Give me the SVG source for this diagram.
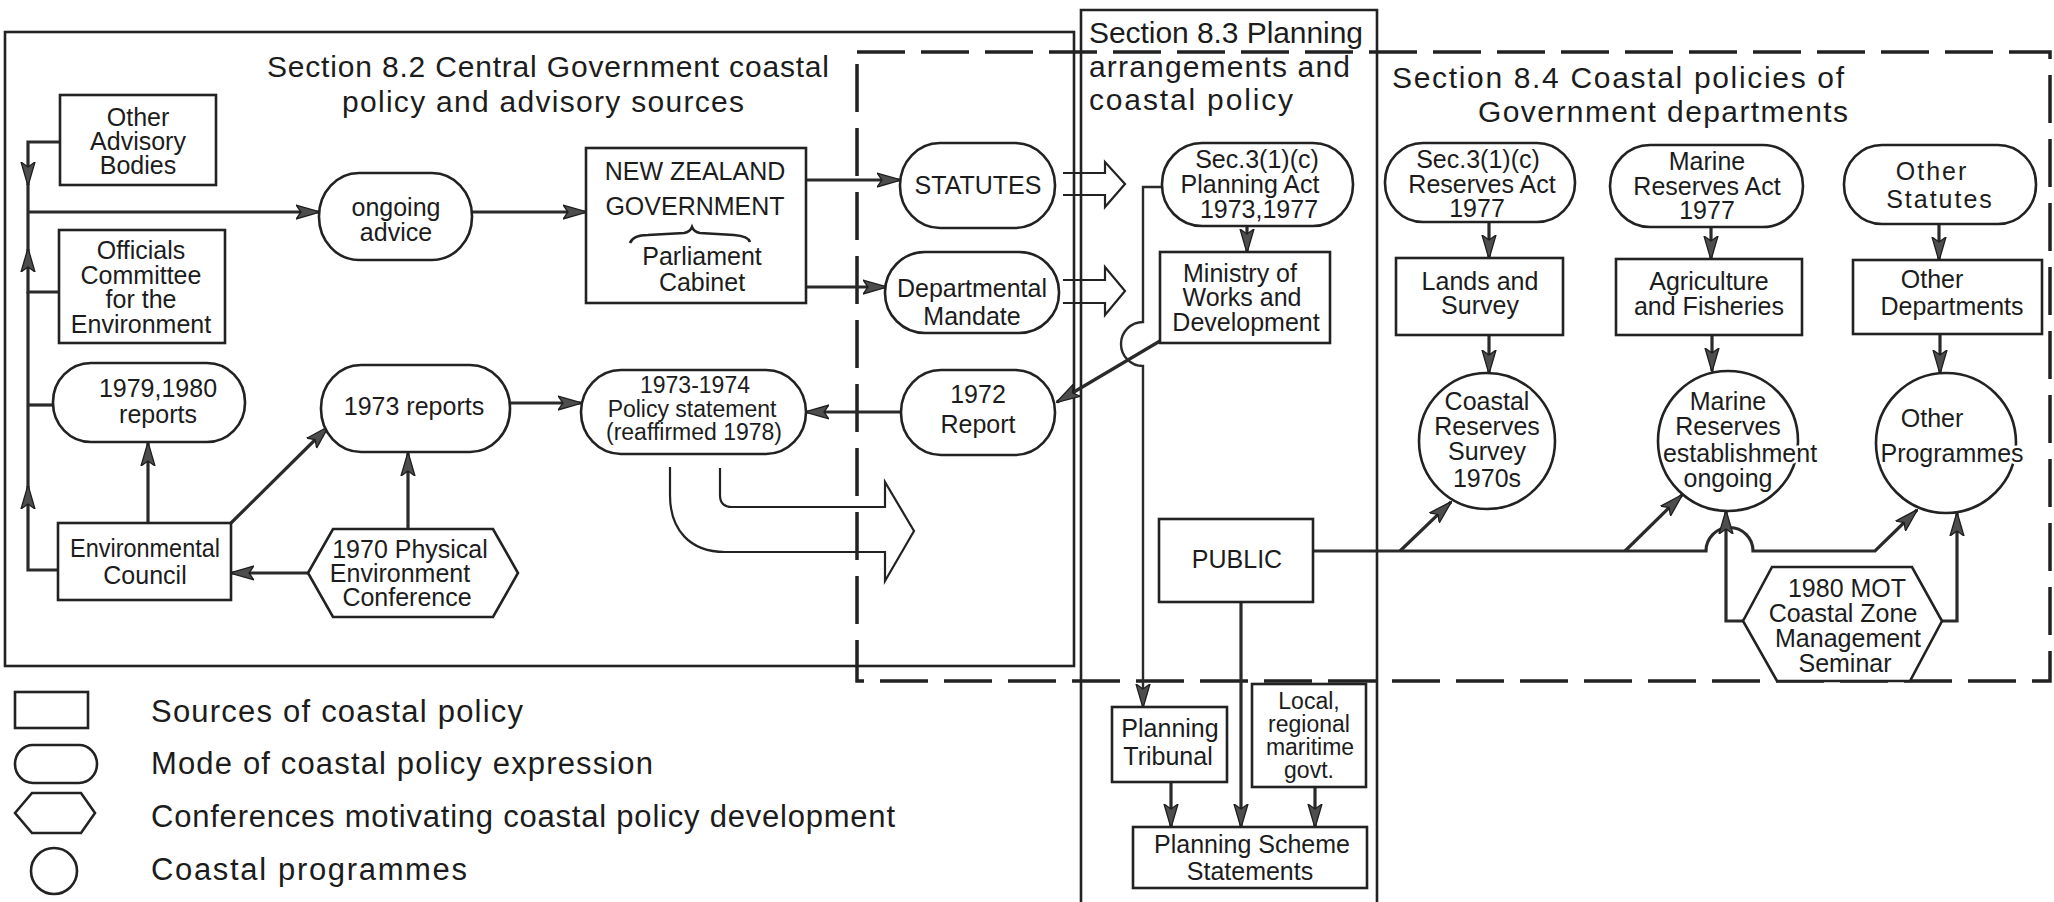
<svg xmlns="http://www.w3.org/2000/svg" width="2054" height="902" viewBox="0 0 2054 902">
<defs>
<style>
text{font-family:"Liberation Sans",Arial,sans-serif;fill:#1c1c1c}
.t{font-size:25px;text-anchor:middle}
.s{font-size:23px;text-anchor:middle}
.ttl{font-size:30px}
.leg{font-size:31px}
.nd{fill:#fff;stroke:#222;stroke-width:2.6}
.fr{fill:none;stroke:#222;stroke-width:2.6}
.dash{fill:none;stroke:#222;stroke-width:3.5;stroke-dasharray:48 16}
.c{fill:none;stroke:#2a2a2a;stroke-width:3.2}
.c2{fill:none;stroke:#2a2a2a;stroke-width:2.4}
.ha{fill:none;stroke:#222;stroke-width:2.2}
.halo{paint-order:stroke;stroke:#fff;stroke-width:5px;stroke-linejoin:round}
.sp{letter-spacing:2px}
</style>
<marker id="ah" viewBox="0 0 24 16" refX="23" refY="8" markerWidth="24" markerHeight="16" markerUnits="userSpaceOnUse" orient="auto">
<path d="M0,1 L24,8 L0,15 L5,8 z" fill="#4d4d4d" stroke="#1e1e1e" stroke-width="1.3"/>
</marker>
</defs>
<rect width="2054" height="902" fill="#fff"/>

<!-- section frames -->
<g id="frames">
<rect class="fr" x="5" y="32" width="1069" height="634"/>
<path class="fr" d="M1081,902 V10 H1377 V902"/>
<rect class="dash" x="857" y="52" width="1193" height="629"/>
</g>

<!-- section headings -->
<g id="headings">
<text class="ttl" x="548" y="77" text-anchor="middle" textLength="562">Section 8.2 Central Government coastal</text>
<text class="ttl" x="543" y="112" text-anchor="middle" textLength="402">policy and advisory sources</text>
<text class="ttl" x="1089" y="43" textLength="274">Section 8.3 Planning</text>
<text class="ttl" x="1089" y="77" textLength="261">arrangements and</text>
<text class="ttl" x="1089" y="110" textLength="204">coastal policy</text>
<text class="ttl" x="1392" y="88" textLength="452">Section 8.4 Coastal policies of</text>
<text class="ttl" x="1478" y="122" textLength="370">Government departments</text>
</g>

<!-- connectors -->
<g id="connectors">
<path class="c" d="M60,142 H28 V185" marker-end="url(#ah)"/>
<path class="c" d="M28,184 V212"/>
<path class="c" d="M59,292 H28 V249" marker-end="url(#ah)"/>
<path class="c" d="M28,250 V212"/>
<path class="c" d="M58,570 H28 V486" marker-end="url(#ah)"/>
<path class="c" d="M28,487 V292"/>
<path class="c" d="M28,405 H53"/>
<path class="c" d="M28,212 H319" marker-end="url(#ah)"/>
<path class="c" d="M472,212 H586" marker-end="url(#ah)"/>
<path class="c" d="M806,180 H900" marker-end="url(#ah)"/>
<path class="c" d="M806,287 H886" marker-end="url(#ah)"/>
<path class="c" d="M510,403 H581" marker-end="url(#ah)"/>
<path class="c" d="M901,412 H806" marker-end="url(#ah)"/>
<path class="c" d="M148,523 V443" marker-end="url(#ah)"/>
<path class="c" d="M231,523 L328,427" marker-end="url(#ah)"/>
<path class="c" d="M408,529 V453" marker-end="url(#ah)"/>
<path class="c" d="M308,573 H231" marker-end="url(#ah)"/>
<path class="ha" d="M1063,173 H1105 V162 L1125,184 L1105,207 V195 H1063"/>
<path class="ha" d="M1063,280 H1105 V267 L1125,291 L1105,315 V303 H1063"/>
<path class="ha" d="M670,467 V495 C670,530 690,552 725,552 H885 V581 L914,531 L885,482 V507 H732 Q720,507 720,495 V468"/>
<path class="c" d="M1247,226 V252" marker-end="url(#ah)"/>
<path class="c2" d="M1162,187 H1143 V322 A22,22 0 0 0 1143,366 V707" marker-end="url(#ah)"/>
<path class="c" d="M1160,341 L1057,402" marker-end="url(#ah)"/>
<path class="c" d="M1241,602 V827" marker-end="url(#ah)"/>
<path class="c" d="M1171,782 V827" marker-end="url(#ah)"/>
<path class="c" d="M1315,787 V827" marker-end="url(#ah)"/>
<path class="c" d="M1489,222 V258" marker-end="url(#ah)"/>
<path class="c" d="M1489,335 V373" marker-end="url(#ah)"/>
<path class="c" d="M1711,227 V259" marker-end="url(#ah)"/>
<path class="c" d="M1712,335 V371" marker-end="url(#ah)"/>
<path class="c" d="M1939,224 V260" marker-end="url(#ah)"/>
<path class="c" d="M1940,334 V373" marker-end="url(#ah)"/>
<path class="c" d="M1313,551 H1706 A23.5,23.5 0 0 1 1753,551 H1875 L1917,510" marker-end="url(#ah)"/>
<path class="c" d="M1400,551 L1451,502" marker-end="url(#ah)"/>
<path class="c" d="M1625,551 L1682,495" marker-end="url(#ah)"/>
<path class="c" d="M1743,621 H1726 V511" marker-end="url(#ah)"/>
<path class="c" d="M1942,621 H1957 V513" marker-end="url(#ah)"/>
</g>

<!-- Section 8.2 nodes -->
<g id="advisory">
<rect class="nd" x="60" y="95" width="156" height="90"/>
<text class="t" x="138" y="126">Other</text>
<text class="t" x="138" y="150">Advisory</text>
<text class="t" x="138" y="174">Bodies</text>
</g>
<g id="officials">
<rect class="nd" x="59" y="230" width="166" height="113"/>
<text class="t" x="141" y="259">Officials</text>
<text class="t" x="141" y="284">Committee</text>
<text class="t" x="141" y="308">for the</text>
<text class="t" x="141" y="333">Environment</text>
</g>
<g id="reports7980">
<rect class="nd" x="53" y="363" width="192" height="79" rx="38" ry="39"/>
<text class="t" x="158" y="397">1979,1980</text>
<text class="t" x="158" y="423">reports</text>
</g>
<g id="envcouncil">
<rect class="nd" x="58" y="523" width="173" height="77"/>
<text class="t" x="145" y="557" textLength="150" lengthAdjust="spacingAndGlyphs">Environmental</text>
<text class="t" x="145" y="584">Council</text>
</g>
<g id="ongoing">
<rect class="nd" x="319" y="173" width="153" height="87" rx="40" ry="43"/>
<text class="t" x="396" y="216">ongoing</text>
<text class="t" x="396" y="241">advice</text>
</g>
<g id="nzgov">
<rect class="nd" x="586" y="148" width="220" height="155"/>
<text class="t" x="695" y="180">NEW ZEALAND</text>
<text class="t" x="695" y="215">GOVERNMENT</text>
<path class="fr" stroke-width="2" d="M630,243 Q633,235 648,235 L684,233 Q690,232 692,227 Q694,232 700,233 L734,235 Q748,236 750,242"/>
<text class="t" x="702" y="265">Parliament</text>
<text class="t" x="702" y="291">Cabinet</text>
</g>
<g id="reports73">
<rect class="nd" x="321" y="365" width="189" height="87" rx="40" ry="43"/>
<text class="t" x="414" y="415">1973 reports</text>
</g>
<g id="policy">
<rect class="nd" x="581" y="370" width="225" height="84" rx="40" ry="42"/>
<text class="s" x="695" y="393">1973-1974</text>
<text class="s" x="692" y="417">Policy statement</text>
<text class="s" x="694" y="440">(reaffirmed 1978)</text>
</g>
<g id="conf1970">
<polygon class="nd" points="308,573 333,529 493,529 518,573 493,617 333,617"/>
<text class="t" x="410" y="558">1970 Physical</text>
<text class="t" x="400" y="582">Environment</text>
<text class="t" x="407" y="606">Conference</text>
</g>
<g id="statutes">
<rect class="nd" x="900" y="143" width="155" height="85" rx="40" ry="42"/>
<text class="t" x="978" y="194">STATUTES</text>
</g>
<g id="mandate">
<rect class="nd" x="885" y="252" width="174" height="81" rx="40" ry="40"/>
<text class="t" x="972" y="297">Departmental</text>
<text class="t" x="972" y="325">Mandate</text>
</g>
<g id="report72">
<rect class="nd" x="901" y="370" width="154" height="85" rx="40" ry="42"/>
<text class="t" x="978" y="403">1972</text>
<text class="t" x="978" y="433">Report</text>
</g>

<!-- Section 8.3 nodes -->
<g id="planact">
<rect class="nd" x="1162" y="143" width="191" height="83" rx="40" ry="41"/>
<text class="t" x="1257" y="168">Sec.3(1)(c)</text>
<text class="t" x="1250" y="193">Planning Act</text>
<text class="t" x="1259" y="218">1973,1977</text>
</g>
<g id="mwd">
<rect class="nd" x="1160" y="252" width="170" height="91"/>
<text class="t" x="1240" y="282">Ministry of</text>
<text class="t" x="1242" y="306">Works and</text>
<text class="t" x="1246" y="331">Development</text>
</g>
<g id="public">
<rect class="nd" x="1159" y="519" width="154" height="83"/>
<text class="t" x="1237" y="568">PUBLIC</text>
</g>
<g id="tribunal">
<rect class="nd" x="1112" y="707" width="115" height="75"/>
<text class="t" x="1170" y="737">Planning</text>
<text class="t" x="1168" y="765">Tribunal</text>
</g>
<g id="local">
<rect class="nd" x="1252" y="684" width="114" height="103"/>
<text class="s" x="1309" y="709">Local,</text>
<text class="s" x="1309" y="732">regional</text>
<text class="s" x="1310" y="755">maritime</text>
<text class="s" x="1309" y="778">govt.</text>
</g>
<g id="scheme">
<rect class="nd" x="1133" y="827" width="234" height="61"/>
<text class="t" x="1252" y="853">Planning Scheme</text>
<text class="t" x="1250" y="880">Statements</text>
</g>

<!-- Section 8.4 nodes -->
<g id="resact">
<rect class="nd" x="1385" y="143" width="190" height="79" rx="38" ry="39"/>
<text class="t" x="1478" y="168">Sec.3(1)(c)</text>
<text class="t" x="1482" y="193">Reserves Act</text>
<text class="t" x="1477" y="217">1977</text>
</g>
<g id="lands">
<rect class="nd" x="1396" y="258" width="167" height="77"/>
<text class="t" x="1480" y="290">Lands and</text>
<text class="t" x="1480" y="314">Survey</text>
</g>
<g id="coastalres">
<circle class="nd" cx="1487" cy="441" r="68"/>
<text class="t halo" x="1487" y="410">Coastal</text>
<text class="t halo" x="1487" y="435">Reserves</text>
<text class="t halo" x="1487" y="460">Survey</text>
<text class="t halo" x="1487" y="487">1970s</text>
</g>
<g id="marineact">
<rect class="nd" x="1610" y="145" width="193" height="82" rx="40" ry="41"/>
<text class="t" x="1707" y="170">Marine</text>
<text class="t" x="1707" y="195">Reserves Act</text>
<text class="t" x="1707" y="219">1977</text>
</g>
<g id="agri">
<rect class="nd" x="1616" y="259" width="186" height="76"/>
<text class="t" x="1709" y="290">Agriculture</text>
<text class="t" x="1709" y="315">and Fisheries</text>
</g>
<g id="marineres">
<circle class="nd" cx="1728" cy="441" r="70"/>
<text class="t halo" x="1728" y="410">Marine</text>
<text class="t halo" x="1728" y="435">Reserves</text>
<text class="t halo" x="1740" y="462">establishment</text>
<text class="t halo" x="1728" y="487">ongoing</text>
</g>
<g id="otherstat">
<rect class="nd" x="1844" y="145" width="192" height="79" rx="38" ry="39"/>
<text class="t sp" x="1932" y="180">Other</text>
<text class="t sp" x="1940" y="208">Statutes</text>
</g>
<g id="otherdept">
<rect class="nd" x="1853" y="260" width="189" height="74"/>
<text class="t" x="1932" y="288">Other</text>
<text class="t" x="1952" y="315">Departments</text>
</g>
<g id="otherprog">
<circle class="nd" cx="1946" cy="443" r="70"/>
<text class="t halo" x="1932" y="427">Other</text>
<text class="t halo" x="1952" y="462">Programmes</text>
</g>
<g id="seminar">
<polygon class="nd" points="1743,621 1772,567 1912,567 1942,621 1910,681 1777,681"/>
<text class="t" x="1847" y="597">1980 MOT</text>
<text class="t" x="1843" y="622">Coastal Zone</text>
<text class="t" x="1848" y="647">Management</text>
<text class="t" x="1845" y="672">Seminar</text>
</g>

<!-- key -->
<g id="legend">
<rect class="nd" x="15" y="692" width="73" height="36"/>
<rect class="nd" x="15" y="745" width="82" height="38" rx="18" ry="19"/>
<polygon class="nd" points="15,813 32,793 81,793 95,813 81,833 32,833"/>
<circle class="nd" cx="54" cy="871" r="23"/>
<text class="leg" x="151" y="722" textLength="372">Sources of coastal policy</text>
<text class="leg" x="151" y="774" textLength="502">Mode of coastal policy expression</text>
<text class="leg" x="151" y="827" textLength="744">Conferences motivating coastal policy development</text>
<text class="leg" x="151" y="880" textLength="316">Coastal programmes</text>
</g>
</svg>
